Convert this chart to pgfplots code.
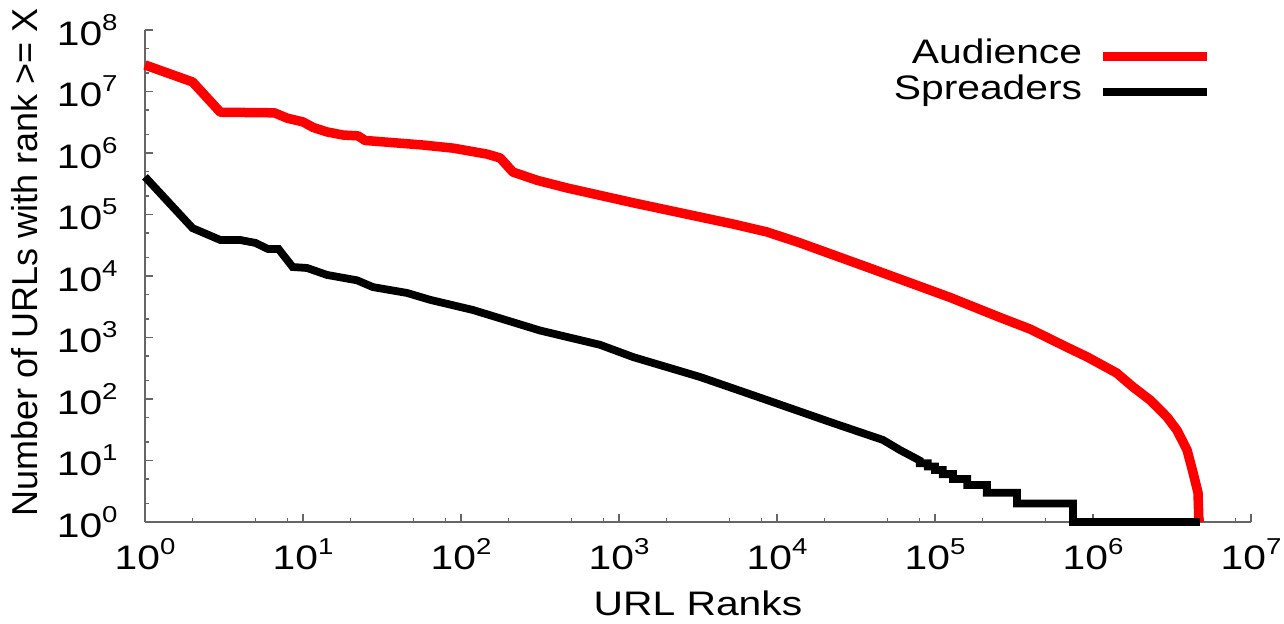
\documentclass[border=0pt]{standalone}
\usepackage{fontspec}
\setmainfont[FakeStretch=1.2]{Liberation Sans}
\newfontfamily\ylabfont{Liberation Sans}
\usepackage{pgfplots}
\pgfplotsset{compat=1.18}
\newcommand{\pw}[1]{10\raisebox{7.5pt}{\fontsize{11.5}{12}\selectfont #1}}
\newcommand{\bigfont}{\fontsize{17}{20}\selectfont}

\begin{document}
\begin{tikzpicture}
\useasboundingbox (-72.5pt,-51pt) rectangle (569.5pt,261pt);
\begin{axis}[
    scale only axis,
    width=553pt, height=246pt,
    xmode=log, ymode=log,
    xmin=1, xmax=1e7,
    ymin=1, ymax=1e8,
    axis lines=left,
    axis line style={-, black!60, line width=0.8pt},
    clip=false,
    tick align=inside,
    major tick length=4pt,
    minor tick length=2pt,
    tick style={black!60, line width=0.6pt},
    xtick={1,10,100,1e3,1e4,1e5,1e6,1e7},
    xticklabels={\pw{0},\pw{1},\pw{2},\pw{3},\pw{4},\pw{5},\pw{6},\pw{7}},
    minor xtick={2,5,8,20,50,80,200,500,800,2e3,5e3,8e3,2e4,5e4,8e4,2e5,5e5,8e5,2e6,5e6,8e6},
    ytick={1,10,100,1e3,1e4,1e5,1e6,1e7,1e8},
    yticklabels={\pw{0},\pw{1},\pw{2},\pw{3},\pw{4},\pw{5},\pw{6},\pw{7},\pw{8}},
    minor ytick={2,5,20,50,200,500,2e3,5e3,2e4,5e4,2e5,5e5,2e6,5e6,2e7,5e7},
    tick label style={font=\bigfont},
    xticklabel style={anchor=base, inner sep=0pt, yshift=-24pt},
    yticklabel style={anchor=east, inner sep=0pt, xshift=-13.5pt},
    xlabel={URL Ranks},
    xlabel style={font=\bigfont, at={(axis description cs:0.5,0)}, anchor=center, yshift=-40.75pt},
    ylabel={\ylabfont Number of URLs with rank >= X},
    ylabel style={font=\fontsize{18}{20}\selectfont, at={(axis description cs:-0.1085,0.528)}, anchor=center},
    legend style={draw=none, fill=none, font=\bigfont,
        at={(rel axis cs:1,1)}, anchor=north east, xshift=-16.5pt, yshift=-2pt,
        nodes={inner sep=0pt, text height=12.5pt, text depth=5.5pt},
        column sep=8pt},
    legend plot pos=right,
    legend cell align=right,
    legend image code/.code={\draw[#1] (0pt,0pt) -- (52pt,0pt);},
]
\addplot[red, line width=4.75pt, line join=round] coordinates {
    (1,2.7e7) (2,1.43e7) (3,4.6e6) (6.6,4.5e6) (7.9,3.7e6) (10,3.2e6)
    (11.6,2.6e6) (14.2,2.2e6) (17.9,1.96e6) (22.3,1.9e6) (24.7,1.6e6)
    (57,1.35e6) (89,1.2e6) (146,9.6e5) (177,8.3e5) (213,4.9e5) (303,3.6e5)
    (469,2.7e5) (1230,1.55e5) (3260,9.1e4) (5270,7.0e4) (8650,5.2e4)
    (1.4e4,3.45e4) (3.7e4,1.4e4) (1.24e5,4.5e3) (2.6e5,2.1e3) (4.0e5,1.37e3)
    (6.8e5,700) (9.2e5,482) (1.41e6,265) (1.79e6,157) (2.3e6,96)
    (2.94e6,51) (3.4e6,31) (3.94e6,14.8) (4.3e6,6.3) (4.62e6,3) (4.68e6,1)};
\addlegendentry{Audience}
\addplot[black, line width=3.9pt, line join=miter] coordinates {
    (1,4.1e5) (2,6.0e4) (3,3.85e4) (4,3.85e4) (5,3.45e4) (6,2.75e4)
    (7,2.75e4) (8.6,1.4e4) (10.6,1.35e4) (14.2,1.04e4) (22,8.5e3)
    (27.7,6.6e3) (45.5,5.3e3) (63.7,4.1e3) (119,2.8e3) (195,1.9e3)
    (316,1.3e3) (469,1.02e3) (759,760) (1230,480) (3260,228) (8650,96)
    (2.26e4,40.7) (4.68e4,21.6) (6.0e4,14.8) (7.0e4,12) (8.0e4,10)
    (8.0e4,9) (9.0e4,9) (9.0e4,8) (1.0e5,8) (1.0e5,7) (1.12e5,7)
    (1.12e5,6) (1.3e5,6) (1.3e5,5) (1.6e5,5) (1.6e5,4) (2.13e5,4)
    (2.13e5,3) (3.3e5,3) (3.3e5,2) (7.47e5,2) (7.47e5,1) (4.75e6,1)};
\addlegendentry{Spreaders}
\end{axis}
\end{tikzpicture}
\end{document}
